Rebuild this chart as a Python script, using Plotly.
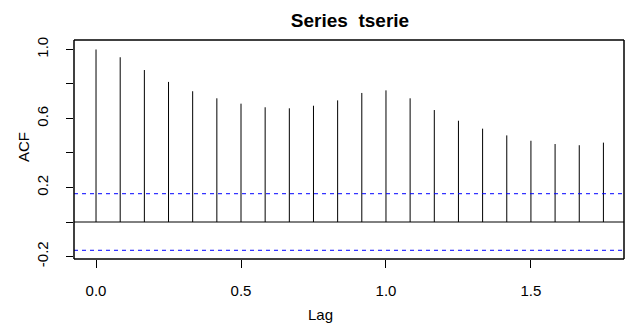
import plotly.graph_objects as go

lags = [0.0, 0.0833, 0.1667, 0.25, 0.3333, 0.4167, 0.5, 0.5833, 0.6667, 0.75, 0.8333,
        0.9167, 1.0, 1.0833, 1.1667, 1.25, 1.3333, 1.4167, 1.5, 1.5833, 1.6667, 1.75]
acf_vals = [1.0, 0.955, 0.881, 0.812, 0.758, 0.717, 0.686, 0.665, 0.659, 0.674, 0.705,
            0.748, 0.763, 0.717, 0.649, 0.587, 0.541, 0.502, 0.471, 0.452, 0.445, 0.460]
ci_bound = 0.164
x_ticks = [0.0, 0.5, 1.0, 1.5]
x_tick_labels = ["0.0", "0.5", "1.0", "1.5"]
y_ticks = [-0.2, 0.0, 0.2, 0.4, 0.6, 0.8, 1.0]
y_tick_labels = ["-0.2", "", "0.2", "", "0.6", "", "1.0"]

FONT = "Liberation Sans, Arial, Helvetica, sans-serif"

xs, ys = [], []
for lg, v in zip(lags, acf_vals):
    xs += [lg, lg, None]
    ys += [0, v, None]

fig = go.Figure()
fig.add_trace(go.Scatter(x=xs, y=ys, mode="lines",
                         line=dict(color="black", width=1),
                         hoverinfo="skip", showlegend=False))

box = dict(color="black", width=1.5)
shapes = [
    dict(type="line", xref="x domain", yref="y", x0=0, x1=1, y0=0, y1=0,
         line=dict(color="black", width=1)),
    dict(type="line", xref="x domain", yref="y", x0=0, x1=1, y0=ci_bound, y1=ci_bound,
         line=dict(color="#0000ff", width=1, dash="4px,4px")),
    dict(type="line", xref="x domain", yref="y", x0=0, x1=1, y0=-ci_bound, y1=-ci_bound,
         line=dict(color="#0000ff", width=1, dash="4px,4px")),
    dict(type="line", xref="paper", yref="paper", x0=0, x1=1, y0=1, y1=1, line=box),
    dict(type="line", xref="paper", yref="paper", x0=0, x1=1, y0=0, y1=0, line=box),
    dict(type="line", xref="paper", yref="paper", x0=0, x1=0, y0=0, y1=1, line=box),
    dict(type="line", xref="paper", yref="paper", x0=1, x1=1, y0=0, y1=1, line=box),
]

fig.update_layout(
    width=625, height=324,
    margin=dict(l=74, r=1, t=40, b=65, autoexpand=False),
    paper_bgcolor="white", plot_bgcolor="white",
    font=dict(family=FONT, size=15, color="black"),
    shapes=shapes,
    title=dict(text="<b>Series  tserie</b>", xref="container", yref="container",
               x=350/625, y=1-20/324, xanchor="center", yanchor="middle",
               font=dict(family=FONT, size=19, color="black")),
    xaxis=dict(range=[-0.076, 1.821], tickvals=x_ticks, ticktext=x_tick_labels,
               showgrid=False, zeroline=False, showline=False,
               ticks="outside", ticklen=8,
               tickcolor="black", tickwidth=1, ticklabelstandoff=10, automargin=False),
    yaxis=dict(range=[-0.2145, 1.055], tickvals=y_ticks, ticktext=y_tick_labels,
               showgrid=False, zeroline=False, showline=False,
               ticks="outside", ticklen=7,
               tickcolor="black", tickwidth=1, tickangle=-90, ticklabelstandoff=12,
               automargin=False),
    annotations=[
        dict(text="ACF", xref="paper", yref="paper", x=(23-74)/550, y=(259-147)/219,
             xanchor="center", yanchor="middle", textangle=-90, showarrow=False,
             font=dict(family=FONT, size=15, color="black")),
        dict(text="Lag", xref="paper", yref="paper", x=(320-74)/550, y=(259-314)/219,
             xanchor="center", yanchor="middle", showarrow=False,
             font=dict(family=FONT, size=15, color="black")),
    ],
)

fig.write_html("out.html", config={"displayModeBar": False},
               post_script="document.body.style.margin='0';document.body.style.overflow='hidden';")
